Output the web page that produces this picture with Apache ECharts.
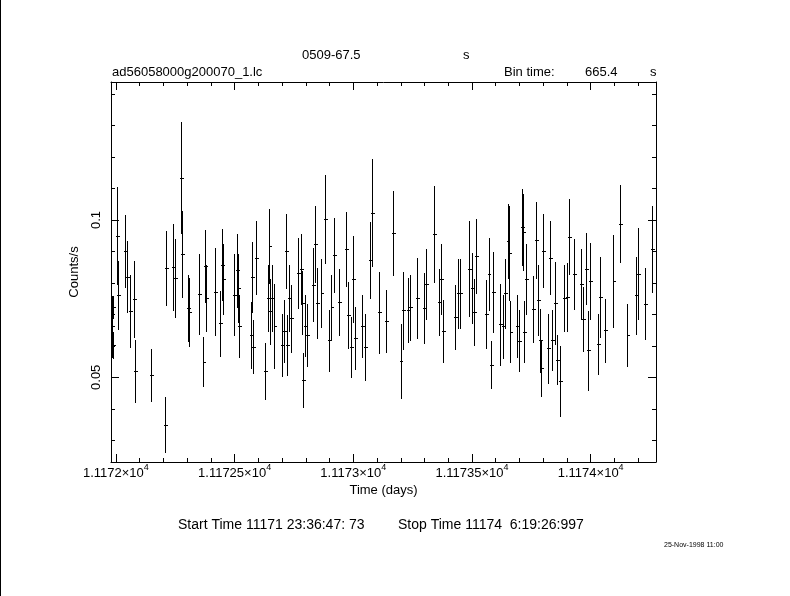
<!DOCTYPE html>
<html>
<head>
<meta charset="utf-8">
<script src="https://cdn.jsdelivr.net/npm/echarts@6/dist/echarts.min.js"></script>
<style>html,body{margin:0;padding:0;background:#fff;}#c{width:790px;height:596px;}</style>
</head>
<body>
<div id="c"></div>
<script>
// ---- data ----
var times = [
11171.986,11171.989,11171.991,11172.007,11172.011,11172.040,11172.048,11172.061,11172.079,11172.083,
11172.149,11172.209,11172.213,11172.242,11172.250,11172.277,11172.281,11172.307,11172.311,11172.351,
11172.371,11172.379,11172.383,11172.420,11172.440,11172.449,11172.453,11172.500,11172.512,11172.518,
11172.522,11172.571,11172.577,11172.581,11172.592,11172.629,11172.641,11172.649,11172.653,11172.660,
11172.670,11172.701,11172.710,11172.719,11172.723,11172.731,11172.739,11172.769,11172.781,11172.787,
11172.791,11172.798,11172.806,11172.832,11172.840,11172.849,11172.868,11172.882,11172.899,11172.910,
11172.920,11172.941,11172.971,11172.979,11172.992,11173.000,11173.009,11173.040,11173.051,11173.072,
11173.080,11173.110,11173.139,11173.169,11173.201,11173.211,11173.232,11173.240,11173.270,11173.299,
11173.309,11173.341,11173.362,11173.371,11173.379,11173.430,11173.442,11173.451,11173.490,11173.501,
11173.510,11173.518,11173.560,11173.572,11173.581,11173.590,11173.619,11173.632,11173.640,11173.652,
11173.660,11173.664,11173.691,11173.699,11173.712,11173.719,11173.722,11173.730,11173.760,11173.771,
11173.779,11173.790,11173.794,11173.801,11173.822,11173.830,11173.838,11173.851,11173.859,11173.874,
11173.889,11173.902,11173.910,11173.931,11173.961,11173.969,11173.982,11173.992,11173.999,11174.032,
11174.041,11174.062,11174.098,11174.127,11174.157,11174.191,11174.201,11174.230,11174.260
];
var rates = [
0.0660,0.0723,0.0601,0.0949,0.0760,0.0900,0.0818,0.0709,0.0747,0.0518,
0.0505,0.0348,0.0846,0.0850,0.0815,0.1133,0.0890,0.0718,0.0705,0.0763,
0.0548,0.0852,0.0750,0.0770,0.0670,0.0856,0.0811,0.0761,0.0838,0.0782,
0.0661,0.0633,0.0817,0.0596,0.0879,0.0518,0.0750,0.0916,0.0709,0.0750,
0.0662,0.0601,0.0645,0.0901,0.0601,0.0750,0.0686,0.0831,0.0843,0.0736,
0.0491,0.0663,0.0633,0.0793,0.0922,0.0736,0.0766,0.1002,0.0616,0.0721,
0.0887,0.0737,0.0907,0.0697,0.0594,0.0812,0.0622,0.0662,0.0594,0.0871,
0.1022,0.0705,0.0677,0.0957,0.0550,0.0712,0.0712,0.0721,0.0751,0.0719,
0.0795,0.0954,0.0737,0.0811,0.0645,0.0689,0.0766,0.0766,0.0844,0.0782,
0.0705,0.0883,0.0699,0.0827,0.0539,0.0769,0.0667,0.0660,0.0765,0.0933,
0.0894,0.0644,0.0662,0.0615,0.0977,0.0961,0.0644,0.0812,0.0715,0.0935,
0.0744,0.0616,0.0527,0.0901,0.0590,0.0879,0.0616,0.0734,0.0555,0.0486,
0.0750,0.0753,0.0945,0.0827,0.0795,0.0683,0.0844,0.0584,0.0804,0.0604,
0.0753,0.0648,0.0804,0.0987,0.0633,0.0759,0.0828,0.0732,0.0907
];
var errors = [
0.0099,0.0037,0.0043,0.0155,0.0111,0.0117,0.0115,0.0116,0.0122,0.0101,
0.0085,0.0090,0.0119,0.0138,0.0126,0.0179,0.0138,0.0106,0.0110,0.0129,
0.0080,0.0117,0.0106,0.0140,0.0105,0.0115,0.0112,0.0130,0.0117,0.0110,
0.0100,0.0106,0.0112,0.0085,0.0117,0.0091,0.0107,0.0119,0.0105,0.0107,
0.0134,0.0099,0.0100,0.0119,0.0096,0.0107,0.0109,0.0113,0.0113,0.0103,
0.0087,0.0098,0.0101,0.0117,0.0121,0.0113,0.0110,0.0141,0.0098,0.0105,
0.0118,0.0106,0.0120,0.0106,0.0097,0.0138,0.0100,0.0100,0.0106,0.0123,
0.0172,0.0131,0.0101,0.0134,0.0119,0.0124,0.0104,0.0104,0.0129,0.0113,
0.0114,0.0154,0.0106,0.0113,0.0101,0.0103,0.0111,0.0111,0.0152,0.0114,
0.0106,0.0119,0.0110,0.0117,0.0077,0.0129,0.0131,0.0101,0.0111,0.0119,
0.0151,0.0098,0.0101,0.0098,0.0122,0.0122,0.0099,0.0113,0.0106,0.0121,
0.0112,0.0101,0.0090,0.0117,0.0111,0.0118,0.0097,0.0132,0.0078,0.0113,
0.0107,0.0109,0.0121,0.0113,0.0113,0.0103,0.0115,0.0128,0.0123,0.0096,
0.0128,0.0102,0.0148,0.0124,0.0101,0.0123,0.0147,0.0114,0.0138
];
var binTimeSec = 665.4;
var xMajorTicks = [11172, 11172.5, 11173, 11173.5, 11174];
var xTickMantissa = ['1.1172', '1.11725', '1.1173', '1.11735', '1.1174'];
var xTickExponent = '4';
var xMinorTicks = [11172.0,11172.1,11172.2,11172.3,11172.4,11172.5,11172.6,11172.7,11172.8,11172.9,11173.0,
                   11173.1,11173.2,11173.3,11173.4,11173.5,11173.6,11173.7,11173.8,11173.9,11174.0,11174.1,11174.2];
var yMajorTicks = [0.05, 0.1];
var yTickLabels = ['0.05', '0.1'];
var yMinorTicks = [0.03,0.04,0.05,0.06,0.07,0.08,0.09,0.10,0.11,0.12,0.13,0.14];
var xRange = [11171.9794, 11174.2751];
var yRange = [0.02308, 0.14387];

// ---- chart ----
var FONT = 'Liberation Sans';
var FS = 13;
var chart = echarts.init(document.getElementById('c'), null, {renderer: 'canvas'});
var halfBin = binTimeSec / 86400 / 2;
var seriesData = times.map(function (t, i) { return [t, rates[i], errors[i]]; });
function crisp(v) { return Math.round(v - 0.5) + 0.5; }

function xAxisDef(pos, ticks, len, showLine, showLabel) {
  return {
    type: 'value', position: pos, min: xRange[0], max: xRange[1],
    axisLine: {show: showLine, onZero: false, lineStyle: {color: '#000', width: 1}},
    axisTick: {show: true, inside: true, length: len, customValues: ticks, lineStyle: {color: '#000', width: 1}},
    axisLabel: showLabel ? {
      show: true, customValues: xMajorTicks, margin: 1, color: '#000', fontFamily: FONT, fontSize: FS,
      formatter: function (v) {
        for (var i = 0; i < xMajorTicks.length; i++)
          if (Math.abs(v - xMajorTicks[i]) < 1e-6) return '{b|' + xTickMantissa[i] + '\u00d710}{s|' + xTickExponent + '}';
        return '';
      },
      rich: {
        b: {fontFamily: FONT, fontSize: FS, lineHeight: 20, color: '#000'},
        s: {fontFamily: FONT, fontSize: 9, lineHeight: 9, verticalAlign: 'top', color: '#000'}
      }
    } : {show: false},
    splitLine: {show: false},
    name: showLabel ? 'Time (days)' : '', nameLocation: 'middle', nameGap: 22,
    nameTextStyle: {color: '#000', fontFamily: FONT, fontSize: FS}
  };
}
function yAxisDef(pos, ticks, len, showLine, showLabel) {
  return {
    type: 'value', position: pos, min: yRange[0], max: yRange[1],
    axisLine: {show: showLine, onZero: false, lineStyle: {color: '#000', width: 1}},
    axisTick: {show: true, inside: true, length: len, customValues: ticks, lineStyle: {color: '#000', width: 1}},
    axisLabel: showLabel ? {
      show: true, customValues: yMajorTicks, margin: 8, rotate: 90, color: '#000', fontFamily: FONT, fontSize: FS,
      formatter: function (v) {
        for (var i = 0; i < yMajorTicks.length; i++) if (Math.abs(v - yMajorTicks[i]) < 1e-9) return yTickLabels[i];
        return '';
      }
    } : {show: false},
    splitLine: {show: false},
    name: showLabel ? 'Counts/s' : '', nameLocation: 'middle', nameGap: 30, nameRotate: 90,
    nameTextStyle: {color: '#000', fontFamily: FONT, fontSize: FS}
  };
}

var option = {
  backgroundColor: '#fff',
  animation: false,
  grid: {left: 111, right: 134, top: 82, bottom: 134, containLabel: false},
  xAxis: [
    xAxisDef('bottom', xMinorTicks, 4, true, true),
    xAxisDef('bottom', xMajorTicks, 8, false, false),
    xAxisDef('top', xMinorTicks, 4, true, false),
    xAxisDef('top', xMajorTicks, 8, false, false)
  ],
  yAxis: [
    yAxisDef('left', yMinorTicks, 4, true, true),
    yAxisDef('left', yMajorTicks, 8, false, false),
    yAxisDef('right', yMinorTicks, 4, true, false),
    yAxisDef('right', yMajorTicks, 8, false, false)
  ],
  series: [{
    type: 'custom', xAxisIndex: 0, yAxisIndex: 0, clip: true,
    data: seriesData,
    renderItem: function (params, api) {
      var t = api.value(0), v = api.value(1), e = api.value(2);
      var top = api.coord([t, v + e]), bot = api.coord([t, v - e]);
      var l = api.coord([t - halfBin, v]), r = api.coord([t + halfBin, v]);
      var x = crisp(top[0]), y = crisp(l[1]);
      return {
        type: 'group',
        children: [
          {type: 'line', shape: {x1: x, y1: Math.round(top[1]), x2: x, y2: Math.round(bot[1])}, style: {stroke: '#000', lineWidth: 1}},
          {type: 'line', shape: {x1: Math.floor(l[0]), y1: y, x2: Math.ceil(r[0]) + 1, y2: y}, style: {stroke: '#000', lineWidth: 1}}
        ]
      };
    }
  }],
  graphic: [
    {type: 'line', shape: {x1: 0.5, y1: 0, x2: 0.5, y2: 596}, style: {stroke: '#000', lineWidth: 1}},
    {type: 'text', x: 302, y: 55, style: {text: '0509-67.5', fontFamily: FONT, fontSize: FS, fill: '#000', verticalAlign: 'middle'}},
    {type: 'text', x: 463, y: 55, style: {text: 's', fontFamily: FONT, fontSize: FS, fill: '#000', verticalAlign: 'middle'}},
    {type: 'text', x: 112, y: 72, style: {text: 'ad56058000g200070_1.lc', fontFamily: FONT, fontSize: FS, fill: '#000', verticalAlign: 'middle'}},
    {type: 'text', x: 504, y: 72, style: {text: 'Bin time:', fontFamily: FONT, fontSize: FS, fill: '#000', verticalAlign: 'middle'}},
    {type: 'text', x: 585, y: 72, style: {text: '665.4', fontFamily: FONT, fontSize: FS, fill: '#000', verticalAlign: 'middle'}},
    {type: 'text', x: 650, y: 72, style: {text: 's', fontFamily: FONT, fontSize: FS, fill: '#000', verticalAlign: 'middle'}},
    {type: 'text', x: 178, y: 525, style: {text: 'Start Time 11171 23:36:47: 73', fontFamily: FONT, fontSize: 14, fill: '#000', verticalAlign: 'middle'}},
    {type: 'text', x: 398, y: 525, style: {text: 'Stop Time 11174  6:19:26:997', fontFamily: FONT, fontSize: 14, fill: '#000', verticalAlign: 'middle'}},
    {type: 'text', x: 664, y: 545, style: {text: '25-Nov-1998 11:00', fontFamily: FONT, fontSize: 7, fill: '#000', verticalAlign: 'middle'}}
  ]
};
chart.setOption(option);
</script>
</body>
</html>
